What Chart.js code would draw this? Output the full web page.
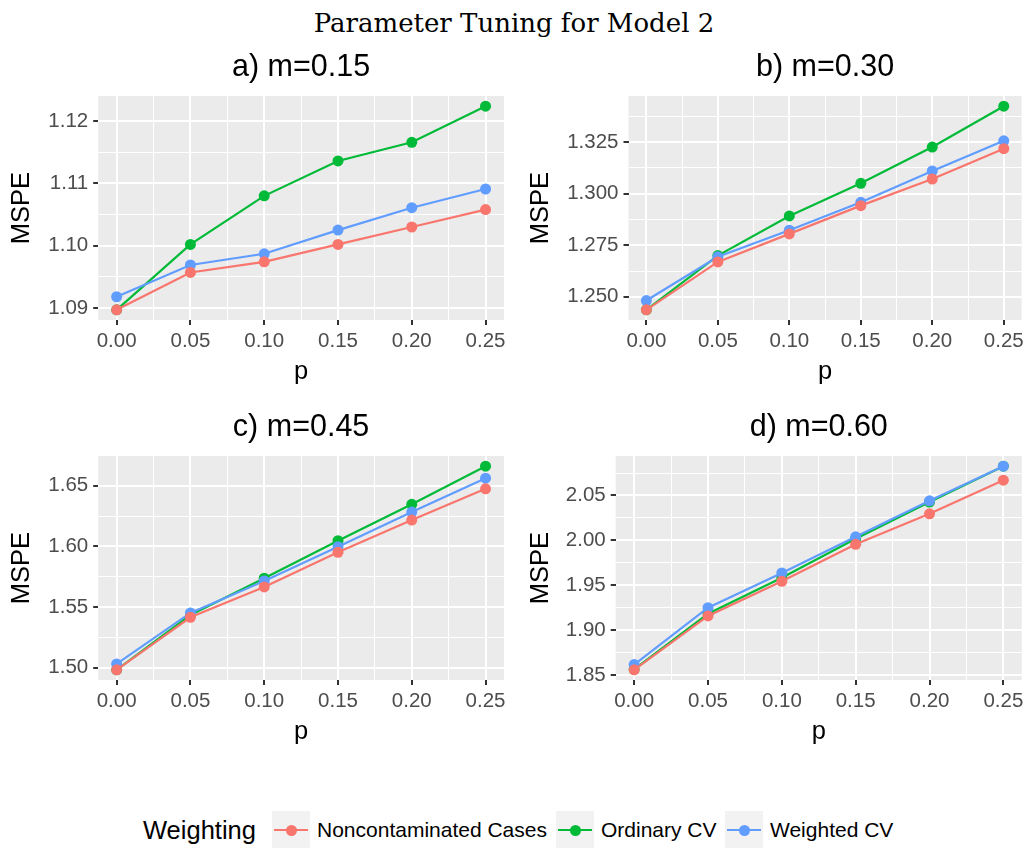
<!DOCTYPE html>
<html>
<head>
<meta charset="utf-8">
<title>Parameter Tuning for Model 2</title>
<script src="https://cdn.jsdelivr.net/npm/chart.js@4.4.1/dist/chart.umd.min.js"></script>
<style>
  html, body { margin: 0; padding: 0; background: #fff; width: 1028px; height: 848px; overflow: hidden; }
  body { position: relative; font-family: 'Liberation Sans', Arial, sans-serif; }
  canvas { position: absolute; }
  #main-title { position: absolute; left: 0; top: 10px; width: 1028px; text-align: center;
    font-family: 'DejaVu Serif', serif; font-size: 26px; line-height: 26px; color: #000; }
  #legend-title { position: absolute; left: 143px; top: 811px; height: 38px; line-height: 38px; font-size: 25.5px; color: #000; }
  .key { position: absolute; top: 811px; width: 38px; height: 38px; background: #F2F2F2; }
  .key .ln { position: absolute; left: 2px; right: 2px; top: 18px; height: 2.2px; }
  .key .dot { position: absolute; left: 13.5px; top: 13.5px; width: 11px; height: 11px; border-radius: 50%; }
  .key-label { position: absolute; top: 811px; height: 38px; line-height: 38px; font-size: 21px; color: #000; white-space: nowrap; }
</style>
</head>
<body>
<div id="main-title">Parameter Tuning for Model 2</div>
<canvas id="panel-a" width="520" height="352"></canvas>
<canvas id="panel-b" width="513" height="352"></canvas>
<canvas id="panel-c" width="520" height="352"></canvas>
<canvas id="panel-d" width="513" height="352"></canvas>
<div id="legend"></div>

<script>
// x values and labels shared by every panel
const pValues = [0, 0.05, 0.10, 0.15, 0.20, 0.25];
const xTickLabels = ['0.00', '0.05', '0.10', '0.15', '0.20', '0.25'];

const seriesNames = ['Noncontaminated Cases', 'Ordinary CV', 'Weighted CV'];
const seriesColors = ['#F8766D', '#00BA38', '#619CFF'];

// a) m=0.15
const nonconA   = [1.0897, 1.0957, 1.0974, 1.1002, 1.1030, 1.1058];
const ordinaryA = [1.0897, 1.1002, 1.1080, 1.1136, 1.1166, 1.1224];
const weightedA = [1.0918, 1.0969, 1.0987, 1.1025, 1.1061, 1.1091];
const yTicksA = ['1.09', '1.10', '1.11', '1.12'];

// b) m=0.30
const nonconB   = [1.2437, 1.2669, 1.2805, 1.2942, 1.3071, 1.3218];
const ordinaryB = [1.2437, 1.2700, 1.2892, 1.3050, 1.3226, 1.3424];
const weightedB = [1.2482, 1.2694, 1.2823, 1.2958, 1.3110, 1.3256];
const yTicksB = ['1.250', '1.275', '1.300', '1.325'];

// c) m=0.45
const nonconC   = [1.4981, 1.5415, 1.5665, 1.5951, 1.6217, 1.6475];
const ordinaryC = [1.4981, 1.5434, 1.5737, 1.6047, 1.6347, 1.6662];
const weightedC = [1.5030, 1.5451, 1.5715, 1.5997, 1.6283, 1.6563];
const yTicksC = ['1.50', '1.55', '1.60', '1.65'];

// d) m=0.60
const nonconD   = [1.8559, 1.9159, 1.9544, 1.9956, 2.0296, 2.0670];
const ordinaryD = [1.8565, 1.9184, 1.9584, 2.0018, 2.0426, 2.0826];
const weightedD = [1.8618, 1.9251, 1.9637, 2.0040, 2.0440, 2.0826];
const yTicksD = ['1.85', '1.90', '1.95', '2.00', '2.05'];

const FONT = "'Liberation Sans', Arial, sans-serif";
// red drawn on top, then blue, green at the bottom
const drawOrder = [0, 2, 1];

// grey panel like ggplot
const panelBackground = {
  id: 'panelBackground',
  beforeDraw(chart) {
    const a = chart.chartArea;
    const ctx = chart.ctx;
    ctx.save();
    ctx.fillStyle = '#EBEBEB';
    ctx.fillRect(a.left, a.top, a.right - a.left, a.bottom - a.top);
    ctx.restore();
  }
};

// major ticks from the label list plus minor ones half way between
function buildTicks(major, lo, hi) {
  const step = major[1] - major[0];
  const ticks = major.filter(v => v >= lo && v <= hi).map(v => ({value: v}));
  for (let i = -1; i < major.length; i++) {
    const m = major[0] + step * (i + 0.5);
    if (m > lo && m < hi) ticks.push({value: m, minor: true});
  }
  ticks.sort((a, b) => a.value - b.value);
  return ticks;
}

function labelFor(major, labels) {
  return function(value) {
    const k = major.findIndex(v => Math.abs(v - value) < 1e-9);
    return k < 0 ? '' : labels[k];
  };
}

function gridFor() {
  return {
    color: '#FFFFFF',
    lineWidth: ctx => (ctx.tick && ctx.tick.minor) ? 1 : 2,
    tickColor: ctx => (ctx.tick && ctx.tick.minor) ? 'rgba(0,0,0,0)' : '#333333',
    tickWidth: 2,
    tickLength: 5,
    drawTicks: true
  };
}

function makePanel(id, title, values, yLabels, box) {
  const canvas = document.getElementById(id);
  canvas.style.left = box.left + 'px';
  canvas.style.top = box.top + 'px';

  const xMajor = xTickLabels.map(parseFloat);
  const xSpan = pValues[pValues.length - 1] - pValues[0];
  const xMin = pValues[0] - xSpan * 0.05;
  const xMax = pValues[pValues.length - 1] + xSpan * 0.05;

  const yMajor = yLabels.map(parseFloat);
  const all = [].concat(...values);
  const lo = Math.min(...all), hi = Math.max(...all);
  const yMin = lo - (hi - lo) * 0.05;
  const yMax = hi + (hi - lo) * 0.05;

  const datasets = values.map((vals, i) => ({
    label: seriesNames[i],
    data: vals.map((v, j) => ({x: pValues[j], y: v})),
    borderColor: seriesColors[i],
    backgroundColor: seriesColors[i],
    pointBackgroundColor: seriesColors[i],
    borderWidth: 2.2,
    pointRadius: 5.5,
    pointHoverRadius: 5.5,
    pointBorderWidth: 0,
    tension: 0,
    order: drawOrder[i]
  }));

  return new Chart(canvas, {
    type: 'line',
    data: { datasets: datasets },
    plugins: [panelBackground],
    options: {
      responsive: false,
      animation: false,
      events: [],
      layout: { padding: { left: 0, right: box.padRight, top: 0, bottom: 0 } },
      plugins: {
        legend: { display: false },
        tooltip: { enabled: false },
        title: {
          display: true,
          text: title,
          fullSize: false,
          color: '#000000',
          font: { family: FONT, size: 30.5, weight: 'normal', lineHeight: 1.2 },
          padding: { top: 9.3, bottom: 10.1 }
        }
      },
      scales: {
        x: {
          type: 'linear',
          min: xMin,
          max: xMax,
          bounds: 'data',
          grid: gridFor(),
          border: { display: false },
          afterBuildTicks: scale => { scale.ticks = buildTicks(xMajor, xMin, xMax); },
          afterFit: scale => { scale.height = box.xAxisH; },
          ticks: {
            autoSkip: false,
            maxRotation: 0,
            padding: 4,
            color: '#4D4D4D',
            font: { family: FONT, size: 20.5 },
            callback: labelFor(xMajor, xTickLabels)
          },
          title: {
            display: true,
            text: 'p',
            color: '#000000',
            font: { family: FONT, size: 25.5, lineHeight: 1.2 },
            padding: { top: 0, bottom: 5.2 }
          }
        },
        y: {
          type: 'linear',
          min: yMin,
          max: yMax,
          bounds: 'data',
          grid: gridFor(),
          border: { display: false },
          afterBuildTicks: scale => { scale.ticks = buildTicks(yMajor, yMin, yMax); },
          afterFit: scale => { scale.width = box.yAxisW; },
          ticks: {
            autoSkip: false,
            padding: 5,
            color: '#4D4D4D',
            font: { family: FONT, size: 20.5 },
            callback: labelFor(yMajor, yLabels)
          },
          title: {
            display: true,
            text: 'MSPE',
            color: '#000000',
            font: { family: FONT, size: 25.5, lineHeight: 1.2 },
            padding: { top: box.yTitlePad, bottom: 0 }
          }
        }
      }
    }
  });
}

makePanel('panel-a', 'a) m=0.15', [nonconA, ordinaryA, weightedA], yTicksA,
  {left: 0, top: 40, yAxisW: 98.2, xAxisH: 72, yTitlePad: 6.7, padRight: 16});
makePanel('panel-b', 'b) m=0.30', [nonconB, ordinaryB, weightedB], yTicksB,
  {left: 515, top: 40, yAxisW: 113.5, xAxisH: 72, yTitlePad: 10.2, padRight: 6.2});
makePanel('panel-c', 'c) m=0.45', [nonconC, ordinaryC, weightedC], yTicksC,
  {left: 0, top: 400, yAxisW: 98.2, xAxisH: 72, yTitlePad: 6.7, padRight: 16});
makePanel('panel-d', 'd) m=0.60', [nonconD, ordinaryD, weightedD], yTicksD,
  {left: 515, top: 400, yAxisW: 100.7, xAxisH: 72, yTitlePad: 10.2, padRight: 6.2});

// shared legend at the bottom
const legend = document.getElementById('legend');
const legendTitle = document.createElement('div');
legendTitle.id = 'legend-title';
legendTitle.textContent = 'Weighting';
legend.appendChild(legendTitle);

const keyLefts = [272, 556, 725];
seriesNames.forEach((name, i) => {
  const key = document.createElement('div');
  key.className = 'key';
  key.style.left = keyLefts[i] + 'px';
  key.innerHTML = '<div class="ln" style="background:' + seriesColors[i] + '"></div>' +
                  '<div class="dot" style="background:' + seriesColors[i] + '"></div>';
  legend.appendChild(key);
  const lbl = document.createElement('div');
  lbl.className = 'key-label';
  lbl.style.left = (keyLefts[i] + 45) + 'px';
  lbl.textContent = name;
  legend.appendChild(lbl);
});
</script>
</body>
</html>
